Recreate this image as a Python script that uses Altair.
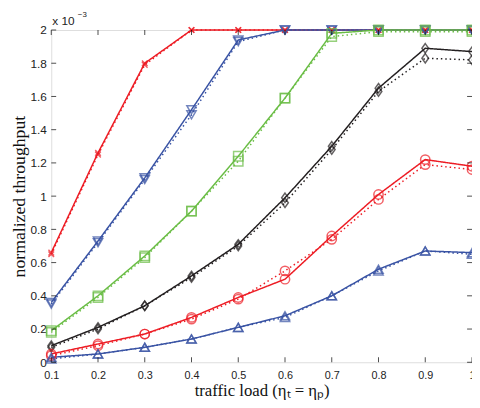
import altair as alt
import pandas as pd

loads = [0.1, 0.2, 0.3, 0.4, 0.5, 0.6, 0.7, 0.8, 0.9, 1.0]

# values in units of 1e-3
red_x_solid   = [0.66, 1.26, 1.80, 2.00, 2.00, 2.00, 2.00, 2.00, 2.00, 2.00]
red_x_dot     = [0.65, 1.25, 1.79, 2.00, 2.00, 2.00, 2.00, 2.00, 2.00, 2.00]
blue_dn_solid = [0.36, 0.73, 1.11, 1.52, 1.94, 2.00, 2.00, 2.00, 2.00, 2.00]
blue_dn_dot   = [0.35, 0.72, 1.10, 1.49, 1.93, 2.00, 2.00, 2.00, 2.00, 2.00]
green_solid   = [0.19, 0.40, 0.64, 0.91, 1.24, 1.59, 1.98, 2.00, 2.00, 2.00]
green_dot     = [0.18, 0.39, 0.63, 0.91, 1.21, 1.59, 1.96, 1.99, 1.99, 1.99]
black_solid   = [0.10, 0.21, 0.34, 0.52, 0.71, 0.99, 1.30, 1.65, 1.89, 1.87]
black_dot     = [0.09, 0.20, 0.34, 0.51, 0.70, 0.96, 1.28, 1.63, 1.83, 1.82]
red_o_solid   = [0.05, 0.11, 0.17, 0.27, 0.39, 0.50, 0.76, 1.01, 1.22, 1.18]
red_o_dot     = [0.04, 0.10, 0.17, 0.26, 0.38, 0.55, 0.74, 0.98, 1.19, 1.16]
blue_up_solid = [0.03, 0.05, 0.09, 0.14, 0.21, 0.28, 0.40, 0.56, 0.67, 0.66]
blue_up_dot   = [0.02, 0.05, 0.09, 0.14, 0.21, 0.27, 0.40, 0.55, 0.67, 0.65]

series_names = ["cross", "tri-down", "square", "diamond", "circle", "tri-up"]
series_colors = ["#ED1C24", "#3953A4", "#6ABD45", "#231F20", "#ED1C24", "#3953A4"]
series_shapes = [
    "M-0.6,-0.6L0.6,0.6M0.6,-0.6L-0.6,0.6",
    "triangle-down",
    "square",
    "M0,-1L0.72,0L0,1L-0.72,0Z",
    "circle",
    "triangle-up",
]
solid_data = [red_x_solid, blue_dn_solid, green_solid, black_solid, red_o_solid, blue_up_solid]
dot_data = [red_x_dot, blue_dn_dot, green_dot, black_dot, red_o_dot, blue_up_dot]

yticks = [0, 0.2, 0.4, 0.6, 0.8, 1.0, 1.2, 1.4, 1.6, 1.8, 2.0]
xticks = loads

rows = []
for name, s, d in zip(series_names, solid_data, dot_data):
    for x, v in zip(loads, s):
        rows.append({"series": name, "kind": "solid", "load": x, "value": v})
    for x, v in zip(loads, d):
        rows.append({"series": name, "kind": "dotted", "load": x, "value": v})
df = pd.DataFrame(rows)

W, H = 428, 338
xscale = alt.Scale(domain=[0.1, 1.0], nice=False, zero=False)
yscale = alt.Scale(domain=[0, 2], nice=False)

color = alt.Color("series:N", scale=alt.Scale(domain=series_names, range=series_colors), legend=None)

xaxis = alt.Axis(values=xticks, format="~g", tickSize=0, labelPadding=8, domain=False, grid=False,
                 labelOverlap=False, labelFlush=False, labelFont="Liberation Sans", labelFontSize=11,
                 labelColor="#222",
                 title="traffic load (ηₜ = ηₚ)", titleFont="Liberation Serif", titleFontSize=17,
                 titleFontWeight="normal", titleColor="#111", titlePadding=2)
yaxis = alt.Axis(values=yticks, format="~g", tickSize=0, labelPadding=5, domain=False, grid=False,
                 labelOverlap=False, labelFlush=False, labelFont="Liberation Sans", labelFontSize=12,
                 labelColor="#222",
                 title="normalized throughput", titleFont="Liberation Serif", titleFontSize=18,
                 titleFontWeight="normal", titleColor="#111", titlePadding=2)

base = alt.Chart(df)
lines = base.mark_line(strokeWidth=1.5, clip=False).encode(
    x=alt.X("load:Q", scale=xscale, axis=xaxis),
    y=alt.Y("value:Q", scale=yscale, axis=yaxis),
    color=color,
    strokeDash=alt.StrokeDash("kind:N", scale=alt.Scale(domain=["solid", "dotted"], range=[[1, 0], [1.5, 3]]), legend=None),
    detail="kind:N",
)
points = base.mark_point(filled=False, strokeWidth=1.5, size=90).encode(
    x=alt.X("load:Q", scale=xscale, axis=xaxis),
    y=alt.Y("value:Q", scale=yscale, axis=yaxis),
    color=color,
    shape=alt.Shape("series:N", scale=alt.Scale(domain=series_names, range=series_shapes), legend=None),
)

ydf = pd.DataFrame({"load": [0.1] * len(yticks), "value": yticks})
xdf = pd.DataFrame({"load": xticks, "value": [0] * len(xticks)})
tl = alt.Chart(ydf).mark_tick(orient="horizontal", size=5, thickness=1, color="black").encode(
    y=alt.Y("value:Q", scale=yscale, axis=yaxis), x=alt.value(2.5))
tr = alt.Chart(ydf).mark_tick(orient="horizontal", size=5, thickness=1, color="black").encode(
    y=alt.Y("value:Q", scale=yscale, axis=yaxis), x=alt.value(W - 2.5))
tb = alt.Chart(xdf).mark_tick(orient="vertical", size=5, thickness=1, color="black").encode(
    x=alt.X("load:Q", scale=xscale, axis=xaxis), y=alt.value(H - 2.5))
tt = alt.Chart(xdf).mark_tick(orient="vertical", size=5, thickness=1, color="black").encode(
    x=alt.X("load:Q", scale=xscale, axis=xaxis), y=alt.value(2.5))

mult = alt.Chart(pd.DataFrame({"a": [1]})).mark_text(
    text="x 10", align="left", baseline="alphabetic", font="Liberation Sans", fontSize=12, color="#222"
).encode(x=alt.value(1), y=alt.value(-5))
expo = alt.Chart(pd.DataFrame({"a": [1]})).mark_text(
    text="−3", align="left", baseline="alphabetic", font="Liberation Sans", fontSize=8, color="#222"
).encode(x=alt.value(27), y=alt.value(-13))

chart = alt.layer(lines, points, tl, tr, tb, tt, mult, expo).properties(
    width=W, height=H,
    autosize=alt.AutoSizeParams(type="none"),
    padding={"left": 44, "top": 19, "right": 0, "bottom": 35},
).configure_view(stroke="black", strokeWidth=1.2).configure(background="white")

chart.save("out.html", embed_options={"renderer": "svg", "actions": False})
